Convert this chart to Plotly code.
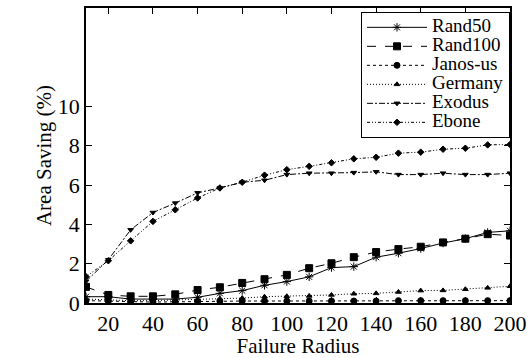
import plotly.graph_objects as go

radius = [10, 20, 30, 40, 50, 60, 70, 80, 90, 100, 110, 120, 130, 140, 150, 160, 170, 180, 190, 200]
rand50 = [0.32, 0.32, 0.2, 0.2, 0.2, 0.29, 0.49, 0.63, 0.9, 1.09, 1.33, 1.8, 1.85, 2.33, 2.53, 2.77, 3.05, 3.27, 3.59, 3.67]
rand100 = [0.82, 0.41, 0.34, 0.34, 0.44, 0.66, 0.8, 1.02, 1.21, 1.43, 1.77, 2.02, 2.33, 2.59, 2.74, 2.86, 3.08, 3.27, 3.5, 3.43]
janos = [0.12, 0.1, 0.06, 0.05, 0.06, 0.08, 0.1, 0.1, 0.1, 0.1, 0.1, 0.1, 0.1, 0.1, 0.12, 0.12, 0.12, 0.12, 0.12, 0.12]
germany = [0.2, 0.16, 0.12, 0.12, 0.15, 0.18, 0.22, 0.25, 0.32, 0.34, 0.36, 0.41, 0.47, 0.49, 0.56, 0.63, 0.64, 0.7, 0.77, 0.85]
exodus = [1.1, 2.2, 3.72, 4.6, 5.08, 5.6, 5.85, 6.14, 6.24, 6.53, 6.6, 6.6, 6.63, 6.67, 6.53, 6.53, 6.6, 6.53, 6.53, 6.6]
ebone = [1.34, 2.15, 3.16, 4.15, 4.74, 5.34, 5.85, 6.14, 6.5, 6.78, 6.95, 7.13, 7.33, 7.41, 7.62, 7.67, 7.82, 7.87, 8.04, 8.06]

series = [
    ("Rand50", rand50, "solid", "asterisk-open", 7),
    ("Rand100", rand100, "dash", "square", 7),
    ("Janos-us", janos, "dot", "circle", 6),
    ("Germany", germany, "1px,2px", "triangle-up", 5),
    ("Exodus", exodus, "6px,2px,2px,2px", "triangle-down", 5),
    ("Ebone", ebone, "3px,2px,1px,2px,1px,2px", "diamond", 5),
]

fig = go.Figure()
for name, vals, dash, sym, size in series:
    fig.add_trace(go.Scatter(
        x=radius, y=vals, mode="lines+markers",
        name='<span style="font-size:19px">' + name + '</span>',
        line=dict(color="black", width=1, dash=dash),
        marker=dict(symbol=sym, size=size, color="black",
                    line=dict(color="black", width=1)),
    ))

tickfont = dict(family="Liberation Serif", size=22, color="black")
titlefont = dict(family="Liberation Serif", size=21, color="black")
lfont = dict(family="Liberation Serif", size=12, color="black")
fig.update_layout(
    width=532, height=358,
    margin=dict(l=86, r=22, t=8, b=55, autoexpand=False),
    paper_bgcolor="white", plot_bgcolor="white",
    font=tickfont,
    showlegend=True,
    legend=dict(x=1, y=0.987, xanchor="right", yanchor="top",
                bgcolor="white", bordercolor="black", borderwidth=1,
                font=lfont, tracegroupgap=0, itemwidth=60),
    xaxis=dict(range=[10, 200], tickvals=list(range(20, 201, 20)),
               ticks="inside", ticklen=6, tickwidth=1, tickcolor="black",
               showline=True, linecolor="black", linewidth=1.5, mirror="ticks",
               showgrid=False, zeroline=False, tickfont=tickfont,
               title=dict(text="Failure Radius", font=titlefont, standoff=6)),
    yaxis=dict(range=[0, 15], tickvals=[0, 2, 4, 6, 8, 10],
               ticks="inside", ticklen=6, tickwidth=1, tickcolor="black",
               showline=True, linecolor="black", linewidth=1.5, mirror="ticks",
               showgrid=False, zeroline=False, tickfont=tickfont,
               title=dict(text="Area Saving (%)", font=titlefont, standoff=0)),
)

fig.write_html("out.html", config={"displayModeBar": False},
               post_script="document.body.style.margin='0';")
